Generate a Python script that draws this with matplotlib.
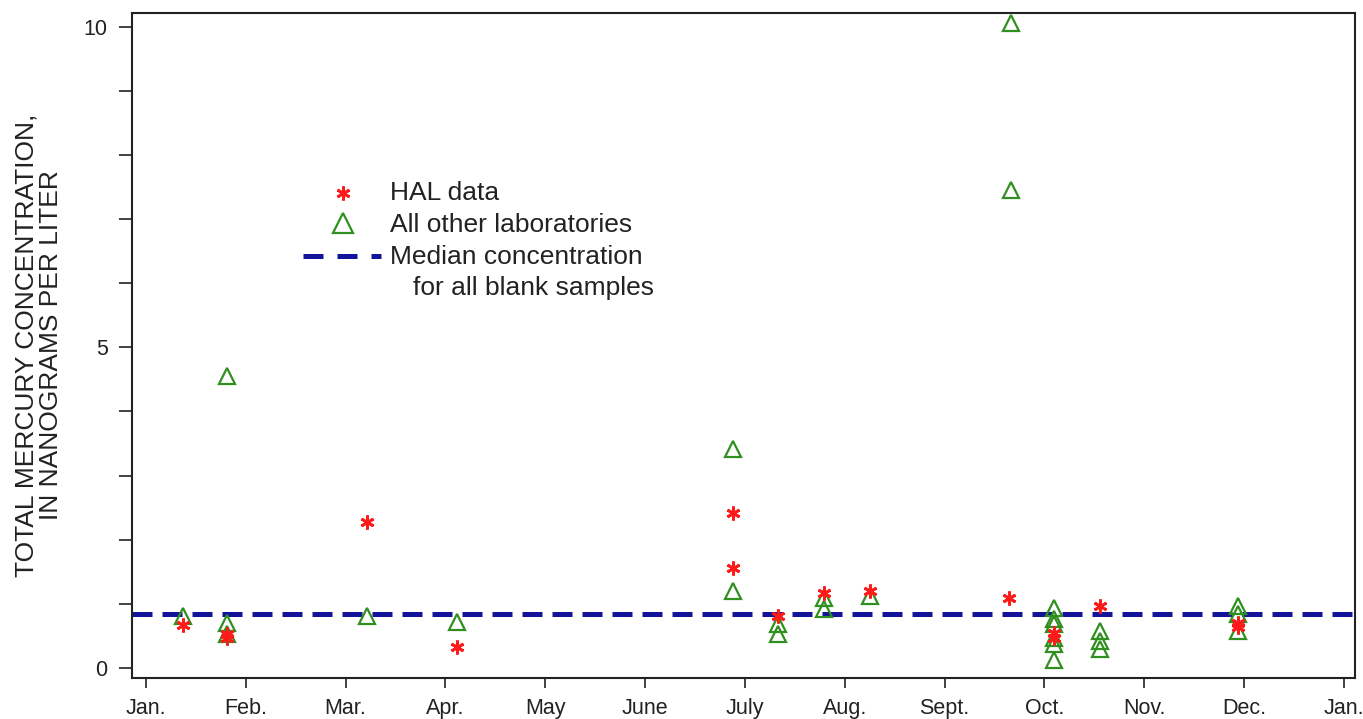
import numpy as np
import matplotlib.pyplot as plt

plt.rcParams['font.family'] = ['Liberation Sans', 'DejaVu Sans']

# x in months from Jan. 1 (0) to next Jan. 1 (12)
month_labels = ['Jan.', 'Feb.', 'Mar.', 'Apr.', 'May', 'June', 'July',
                'Aug.', 'Sept.', 'Oct.', 'Nov.', 'Dec.', 'Jan.']

hal_x = [0.37, 0.81, 0.81, 2.21, 3.12, 5.88, 5.88, 6.33, 6.79, 7.25, 8.64,
         9.10, 9.10, 9.56, 10.94, 10.94]
hal_y = [0.66, 0.53, 0.47, 2.28, 0.33, 2.41, 1.56, 0.81, 1.17, 1.20, 1.09,
         0.55, 0.46, 0.97, 0.70, 0.63]

oth_x = [0.37, 0.81, 0.81, 0.81, 2.21, 3.12, 5.88, 5.88, 6.33, 6.33, 6.79, 6.79,
         7.25, 8.66, 8.66, 9.10, 9.10, 9.10, 9.10, 9.10, 9.10,
         9.56, 9.56, 9.56, 10.94, 10.94, 10.94]
oth_y = [0.81, 4.55, 0.70, 0.53, 0.81, 0.72, 3.42, 1.20, 0.69, 0.53, 1.09, 0.92,
         1.12, 10.06, 7.45, 0.93, 0.76, 0.68, 0.47, 0.37, 0.12,
         0.58, 0.42, 0.30, 0.97, 0.84, 0.58]

median_conc = 0.84

red = '#ff1a1a'
green = '#2f8f1f'
navy = '#14149a'
ast = (6, 2, 0)

fig = plt.figure(figsize=(13.63, 7.19), dpi=100)
ax = fig.add_axes([0.0968, 0.0570, 0.8973, 0.9250])

ax.axhline(median_conc, color=navy, lw=3.6, dashes=(4, 2), zorder=1)
ax.plot(oth_x, oth_y, ls='none', marker='^', ms=12, mfc='none',
        mec=green, mew=1.6, zorder=2)
ax.plot(hal_x, hal_y, ls='none', marker=ast, ms=10, color=red,
        mew=2, zorder=3)

ax.set_xlim(-0.14, 12.11)
ax.set_ylim(-0.16, 10.22)
ax.set_xticks(range(13))
ax.set_xticklabels(month_labels, fontsize=15.5)
ax.set_yticks(range(11))
ax.set_yticklabels([str(v) if v % 5 == 0 else '' for v in range(11)], fontsize=15.5)
ax.tick_params(axis='x', direction='out', length=7.5, width=1.2,
               colors='#222222', pad=7)
ax.tick_params(axis='y', direction='out', length=9.5, width=1.2,
               colors='#222222', pad=8)
for s in ax.spines.values():
    s.set_linewidth(1.5)
    s.set_color('#222222')

ax.set_ylabel('TOTAL MERCURY CONCENTRATION,\nIN NANOGRAMS PER LITER',
              fontsize=19, color='#222222', linespacing=1.05)
ax.yaxis.set_label_coords(-0.056, 0.5)

# legend drawn by hand in axes coordinates
tr = ax.transAxes
ax.plot([0.1725], [0.730], transform=tr, ls='none', marker=ast, ms=10,
        color=red, mew=2, clip_on=False)
ax.plot([0.1725], [0.684], transform=tr, ls='none', marker='^', ms=14,
        mfc='none', mec=green, mew=1.6, clip_on=False)
ax.plot([0.140, 0.204], [0.634, 0.634], transform=tr, color=navy, lw=3.6,
        dashes=(4, 2.8), clip_on=False)
leg_txt = [('HAL data', 0.211, 0.729),
           ('All other laboratories', 0.211, 0.681),
           ('Median concentration', 0.211, 0.633),
           ('for all blank samples', 0.2298, 0.587)]
for t, x, y in leg_txt:
    ax.text(x, y, t, transform=tr, fontsize=19, color='#222222',
            ha='left', va='center')

fig.savefig('out.png', dpi=100)
